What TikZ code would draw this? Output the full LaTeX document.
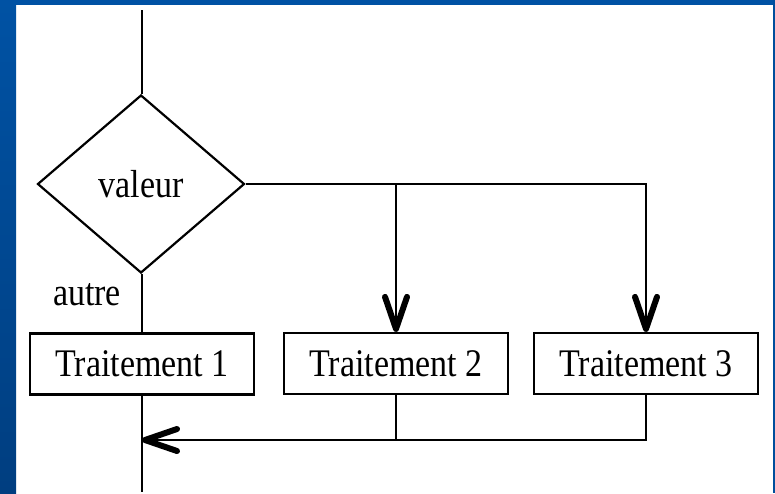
\documentclass[tikz,border=0pt]{standalone}
\usepackage{fontspec}
\setmainfont{Liberation Serif}
\usetikzlibrary{shapes.geometric,arrows.meta}
% the serif lettering is drawn slightly tall
\newcommand{\tallword}[1]{\scalebox{1}[1.15]{#1}}
\definecolor{frameTop}{RGB}{0,82,164}
\definecolor{frameLow}{RGB}{0,62,128}
\definecolor{frameSide}{RGB}{0,78,156}

\begin{document}
\begin{tikzpicture}[x=1pt,y=-1pt,
  flow/.style={line width=2.2pt,draw=black},
  barb/.style={-{Straight Barb[length=32pt,width=22pt,line width=6pt 0 0,round]}},
  decision/.style={diamond,draw,line width=2.2pt,inner sep=0pt,
    minimum width=207pt,minimum height=178pt,
    font=\fontsize{34}{40}\selectfont},
  task/.style={rectangle,draw,line width=2.2pt,inner sep=0pt,
    minimum width=224pt,minimum height=61pt,
    font=\fontsize{34}{40}\selectfont},
  note/.style={font=\fontsize{34}{40}\selectfont,inner sep=0pt}]

  % slide frame
  \useasboundingbox (0,0) rectangle (775,493);
  \fill[white] (0,0) rectangle (775,493);
  \shade[top color=frameTop,bottom color=frameLow] (0,0) rectangle (16,493);
  \fill[frameTop] (0,0) rectangle (775,5);
  \fill[frameSide] (773,0) rectangle (775,493);

  % nodes
  \node[decision] (d) at (141,184) {\tallword{valeur}};
  \node[task] (b1) at (142,364) {\tallword{Traitement 1}};
  \node[task] (b2) at (396,363.5) {\tallword{Traitement 2}};
  \node[task] (b3) at (646,363.5) {\tallword{Traitement 3}};
  \node[note,anchor=base] (other) at (87,305) {\tallword{autre}};

  \coordinate (top) at (142,10);
  \coordinate (bot) at (142,492);
  \coordinate (ret) at (142,440);

  % main flow
  \draw[flow] (top) -- (top |- d.north);
  \draw[flow] (d.south -| b1.north) -- (b1.north);
  \draw[flow] (b1.south) -- (bot);

  % branches
  \draw[flow,barb] (d.east) -| (b3.north);
  \draw[flow,barb] (d.east -| b2.north) -- (b2.north);

  % return path
  \draw[flow] (b2.south) -- (b2.south |- ret);
  \draw[flow,barb] (b3.south) |- (ret);
\end{tikzpicture}
\end{document}
